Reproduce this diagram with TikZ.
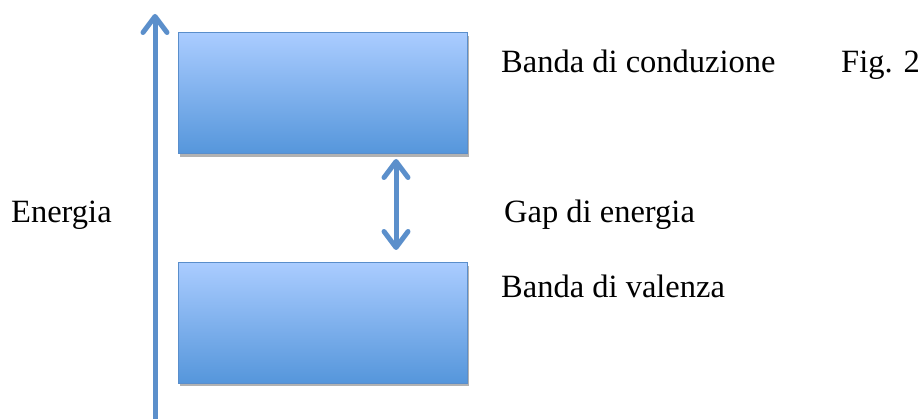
\documentclass[tikz,border=0pt]{standalone}
\usepackage{fontspec}
\setmainfont{Liberation Serif}
\usetikzlibrary{arrows.meta,shadows}
\definecolor{bandtop}{HTML}{AACCFF}
\definecolor{bandbot}{HTML}{5596DB}
\definecolor{bandedge}{HTML}{5A8ECB}
\definecolor{arrowblue}{HTML}{5B8FCB}
\tikzset{
  band/.style={draw=bandedge, line width=1pt, top color=bandtop, bottom color=bandbot,
    drop shadow={shadow xshift=1.5pt, shadow yshift=-3pt, opacity=0.3, fill=black}},
  label/.style={anchor=base west, inner sep=0pt, font=\fontsize{32.5}{39}\selectfont},
  energyarrow/.style={draw=arrowblue, line width=5pt,
    -{Straight Barb[length=16pt, width=24pt, line cap=round, line join=round]}},
  gaparrow/.style={draw=arrowblue, line width=5pt,
    {Straight Barb[length=16pt, width=24pt, line cap=round, line join=round]}-{Straight Barb[length=16pt, width=24pt, line cap=round, line join=round]}}
}
\begin{document}
\begin{tikzpicture}[x=1pt,y=-1pt]
\useasboundingbox (0,0) rectangle (920,419);
\path[band] (178,33) rectangle (467,154);
\path[band] (178,263) rectangle (467,383);
\coordinate (ebot) at (155,425);
\coordinate (etop) at (155,14);
\coordinate (gtop) at (396,159);
\coordinate (gbot) at (396,250);
\draw[energyarrow] (ebot) -- (etop);
\draw[gaparrow] (gtop) -- (gbot);
\node[label] (cond) at (501,73) {Banda di conduzione};
\node[label] (fig) at (841,73) {Fig. 2};
\node[label] (en) at (11,223) {Energia};
\node[label] (gap) at (504,223) {Gap di energia};
\node[label] (val) at (501,298) {Banda di valenza};
\end{tikzpicture}
\end{document}
